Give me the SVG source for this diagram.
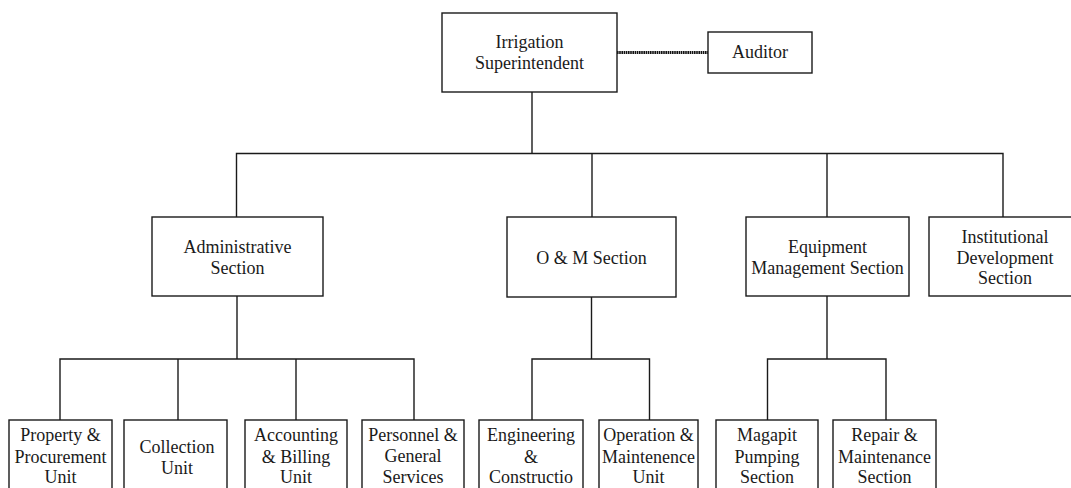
<svg xmlns="http://www.w3.org/2000/svg" width="1071" height="488" viewBox="0 0 1071 488" font-family="'Liberation Serif', 'DejaVu Serif', serif">
  <style>
    .box { fill: #ffffff; stroke: #1a1a1a; stroke-width: 1.4; }
    .line { fill: none; stroke: #1a1a1a; stroke-width: 1.4; }
    .dot { fill: none; stroke: #111111; stroke-width: 2.8; stroke-dasharray: 1.6 0.6; }
    text { font-family: 'Liberation Serif', 'DejaVu Serif', serif; font-size: 18px; fill: #1a1a1a; text-anchor: middle; }
  </style>
  <rect width="1071" height="488" fill="#ffffff"/>

  <!-- connectors -->
  <g id="connectors">
    <path class="dot" d="M617 52.5 H708"/>
    <path class="line" d="M532 92 V153.5"/>
    <path class="line" d="M236.5 217 V153.5 H1003 V217"/>
    <path class="line" d="M592 153.5 V217"/>
    <path class="line" d="M827 153.5 V217"/>
    <path class="line" d="M237 296 V359"/>
    <path class="line" d="M60 420 V359 H414 V420"/>
    <path class="line" d="M178 359 V420"/>
    <path class="line" d="M296 359 V420"/>
    <path class="line" d="M591.5 297 V359"/>
    <path class="line" d="M532 420 V359 H649.5 V420"/>
    <path class="line" d="M827 296 V359"/>
    <path class="line" d="M767.5 420 V359 H886 V420"/>
  </g>

  <!-- top level -->
  <g id="superintendent">
    <rect class="box" x="442" y="13" width="175" height="79"/>
    <text x="529.5" y="48">Irrigation</text>
    <text x="529.5" y="69">Superintendent</text>
  </g>
  <g id="auditor">
    <rect class="box" x="708" y="32" width="104" height="41"/>
    <text x="760" y="58">Auditor</text>
  </g>

  <!-- sections -->
  <g id="administrative">
    <rect class="box" x="152" y="217" width="171" height="79"/>
    <text x="237.5" y="253">Administrative</text>
    <text x="237.5" y="274">Section</text>
  </g>
  <g id="om">
    <rect class="box" x="507" y="217" width="169" height="80"/>
    <text x="591.5" y="264">O &amp; M Section</text>
  </g>
  <g id="equipment">
    <rect class="box" x="746" y="217" width="163" height="79"/>
    <text x="827.5" y="253">Equipment</text>
    <text x="827.5" y="274">Management Section</text>
  </g>
  <g id="institutional">
    <rect class="box" x="929" y="217" width="150" height="79"/>
    <text x="1005" y="243">Institutional</text>
    <text x="1005" y="264">Development</text>
    <text x="1005" y="284">Section</text>
  </g>

  <!-- units -->
  <g id="property">
    <rect class="box" x="9" y="420" width="103" height="90"/>
    <text x="60.5" y="441">Property &amp;</text>
    <text x="60.5" y="463">Procurement</text>
    <text x="60.5" y="483">Unit</text>
  </g>
  <g id="collection">
    <rect class="box" x="124" y="420" width="103" height="90"/>
    <text x="177" y="453">Collection</text>
    <text x="177" y="474">Unit</text>
  </g>
  <g id="accounting">
    <rect class="box" x="245" y="420" width="102" height="90"/>
    <text x="296" y="441">Accounting</text>
    <text x="296" y="463">&amp; Billing</text>
    <text x="296" y="483">Unit</text>
  </g>
  <g id="personnel">
    <rect class="box" x="362" y="420" width="102" height="90"/>
    <text x="413" y="441">Personnel &amp;</text>
    <text x="413" y="462">General</text>
    <text x="413" y="483">Services</text>
    <text x="413" y="504">Unit</text>
  </g>
  <g id="engineering">
    <rect class="box" x="479" y="420" width="104" height="90"/>
    <text x="531" y="441">Engineering</text>
    <text x="531" y="463">&amp;</text>
    <text x="531" y="483">Constructio</text>
    <text x="531" y="504">Unit</text>
  </g>
  <g id="operation">
    <rect class="box" x="599" y="420" width="99" height="90"/>
    <text x="648.5" y="441">Operation &amp;</text>
    <text x="648.5" y="463">Maintenence</text>
    <text x="648.5" y="483">Unit</text>
  </g>
  <g id="magapit">
    <rect class="box" x="716" y="420" width="102" height="90"/>
    <text x="767" y="441">Magapit</text>
    <text x="767" y="463">Pumping</text>
    <text x="767" y="483">Section</text>
  </g>
  <g id="repair">
    <rect class="box" x="833" y="420" width="103" height="90"/>
    <text x="884.5" y="441">Repair &amp;</text>
    <text x="884.5" y="463">Maintenance</text>
    <text x="884.5" y="483">Section</text>
  </g>
</svg>
